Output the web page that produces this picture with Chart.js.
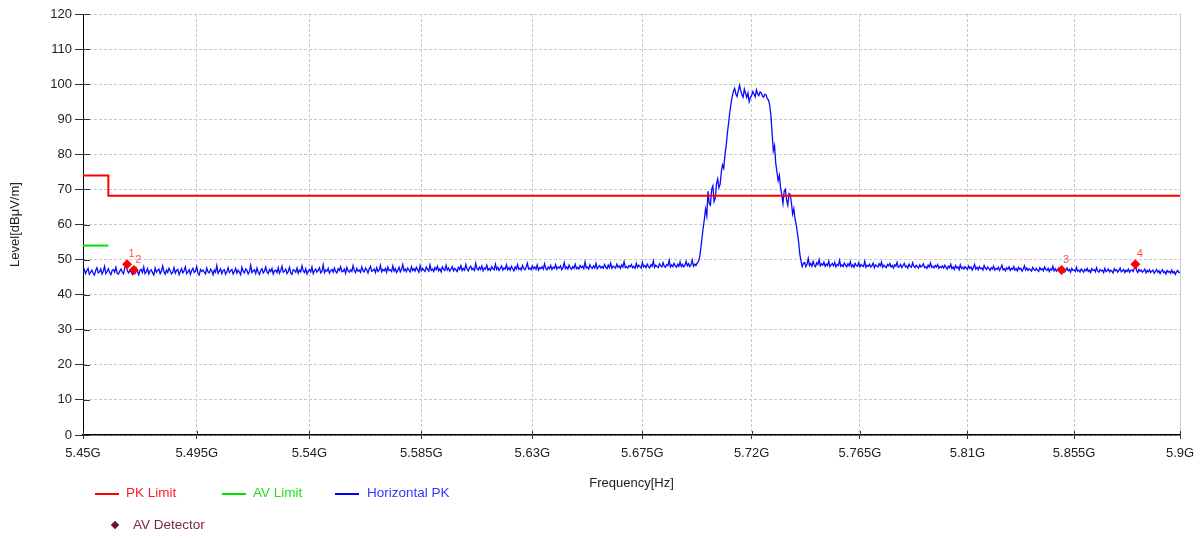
<!DOCTYPE html>
<html>
<head>
<meta charset="utf-8">
<script src="https://cdn.jsdelivr.net/npm/chart.js@4.4.0/dist/chart.umd.min.js"></script>
<style>
  html, body { margin: 0; padding: 0; background: #fff; }
  #wrap { position: relative; width: 1203px; height: 538px; font-family: Arial, "Liberation Sans", sans-serif; }
  #chart { position: absolute; left: 0; top: 0; }
  .lg { position: absolute; font-size: 13.5px; line-height: 16px; white-space: nowrap; }
  .ln { position: absolute; width: 24px; height: 2px; }
  .dia { position: absolute; width: 6px; height: 6px; background: #6b1636; transform: rotate(45deg); }
</style>
</head>
<body>
<div id="wrap">
  <canvas id="chart" width="1203" height="538"></canvas>
  <div class="ln" style="left:95px;top:493px;background:#ff0000"></div>
  <div class="lg" style="left:126px;top:485px;color:#ff2020">PK Limit</div>
  <div class="ln" style="left:222px;top:493px;background:#00e000"></div>
  <div class="lg" style="left:253px;top:485px;color:#22dd22">AV Limit</div>
  <div class="ln" style="left:335px;top:493px;background:#0000ff"></div>
  <div class="lg" style="left:367px;top:485px;color:#3535ff">Horizontal PK</div>
  <div class="dia" style="left:112px;top:522px"></div>
  <div class="lg" style="left:133px;top:517px;color:#7b2350">AV Detector</div>
</div>
<script>
// frequency axis (log scale, like the receiver software)
const X_MIN = 5.45e9;
const X_MAX = 5.9e9;
const xTickValues = [5.45e9, 5.495e9, 5.54e9, 5.585e9, 5.63e9, 5.675e9, 5.72e9, 5.765e9, 5.81e9, 5.855e9, 5.9e9];
const xTickLabels = ["5.45G", "5.495G", "5.54G", "5.585G", "5.63G", "5.675G", "5.72G", "5.765G", "5.81G", "5.855G", "5.9G"];

// limit lines
const pkLimitFreq = [5.45e9, 5.46e9, 5.9e9];
const pkLimitLevel = [74, 74, 68.2];
const avLimitFreq = [5.45e9, 5.46e9];
const avLimitLevel = [54, 54];

// sweep: 5.45G .. 5.9G, 0.5 MHz per point
const SWEEP_START = 5.45e9;
const SWEEP_STEP = 0.5e6;
const horizontalPK = [
  // 5.4500 - 5.5995
  46.3, 47.2, 46.0, 46.8, 47.5, 45.8, 46.4, 47.0, 46.1, 45.6, 46.9, 47.7, 46.2, 46.5, 47.3, 45.9, 46.7, 48.1, 46.0, 46.6,
  47.4, 46.3, 45.7, 46.9, 47.1, 46.4, 47.8, 46.1, 45.9, 46.7, 47.3, 46.5, 46.0, 47.6, 48.6, 46.8, 46.2, 47.0, 46.4, 45.8,
  47.0, 46.1, 47.5, 46.6, 45.7, 46.9, 47.2, 46.3, 47.9, 46.0, 46.5, 47.4, 45.9, 46.8, 47.1, 46.2, 45.6, 47.6, 46.4, 46.9,
  47.3, 46.0, 46.7, 48.2, 46.5, 45.8, 47.0, 46.3, 47.5, 46.8, 45.9, 46.4, 47.7, 46.1, 46.9, 47.2, 45.7, 46.6, 47.4, 46.2,
  46.8, 47.9, 46.0, 46.5, 47.1, 45.8, 46.9, 47.5, 46.3, 46.7, 48.0, 46.1, 45.6, 47.2, 46.6, 47.0, 46.4, 45.9, 47.6, 46.5,
  46.2, 47.3, 46.8, 45.7, 47.0, 46.4, 48.3, 46.1, 46.7, 47.4, 46.0, 46.9, 47.1, 45.8, 46.5, 47.7, 46.3, 46.8, 47.2, 45.9,
  46.6, 47.5, 46.1, 47.0, 46.4, 45.7, 47.8, 46.7, 46.2, 47.3, 46.9, 45.9, 46.5, 48.4, 46.3, 46.8, 47.1, 46.0, 47.6, 46.4,
  45.8, 46.9, 47.4, 46.2, 46.7, 47.9, 46.5, 46.0, 47.2, 46.6, 47.5, 45.9, 46.8, 47.0, 46.3, 47.7, 46.1, 46.9, 48.1, 46.4,
  46.7, 47.3, 46.0, 46.6, 47.8, 46.2, 45.8, 47.1, 46.9, 46.4, 47.6, 46.1, 47.0, 46.5, 48.2, 46.8, 46.3, 47.4, 45.9, 46.7,
  47.2, 46.5, 47.9, 46.0, 46.8, 47.3, 46.4, 46.9, 47.7, 46.2, 46.6, 48.5, 46.3, 47.0, 46.7, 47.5, 46.1, 46.8, 47.2, 46.4,
  47.6, 46.6, 46.2, 47.4, 46.9, 48.0, 46.5, 46.7, 47.3, 46.1, 47.8, 46.8, 46.4, 47.1, 46.6, 48.3, 46.9, 46.3, 47.5, 46.7,
  47.0, 46.4, 47.9, 46.8, 46.5, 47.6, 47.1, 46.2, 47.4, 48.1, 46.7, 46.9, 47.3, 46.3, 47.7, 46.6, 47.0, 48.4, 46.5, 47.2,
  46.8, 47.5, 46.4, 47.9, 46.9, 47.1, 46.6, 48.2, 46.7, 47.4, 46.3, 47.0, 47.8, 46.5, 47.2, 48.6, 46.8, 47.3, 46.6, 47.6,
  47.0, 46.5, 48.0, 46.9, 47.4, 46.7, 47.8, 47.1, 46.4, 48.3, 46.8, 47.5, 47.0, 46.6, 47.9, 47.2, 46.7, 48.5, 46.9, 47.3,
  46.6, 47.7, 47.1, 48.1, 46.8, 47.4, 46.5, 47.9, 47.2, 46.9, 48.4, 47.0, 47.6, 46.7, 47.3, 48.0, 46.8, 47.5, 47.1, 46.6,
  // 5.6000 - 5.6975
  47.8, 47.2, 48.3, 46.9, 47.5, 47.0, 48.6, 47.3, 46.8, 47.7, 48.1, 47.1, 47.5, 46.9, 48.9, 47.4, 47.0, 47.8, 47.2, 48.2,
  46.8, 47.6, 47.3, 48.4, 47.0, 47.5, 46.9, 48.0, 47.4, 47.1, 48.7, 47.2, 47.8, 46.9, 47.5, 48.2, 47.0, 47.6, 47.3, 48.5,
  47.1, 47.7, 47.0, 48.1, 47.4, 46.8, 47.9, 47.3, 48.6, 47.2, 47.6, 47.0, 48.3, 47.5, 47.1, 47.8, 49.0, 47.3, 47.6, 47.1,
  48.2, 47.4, 47.9, 47.2, 48.5, 47.0, 47.7, 47.4, 48.0, 47.3, 48.8, 47.5, 47.1, 47.9, 47.4, 48.3, 47.2, 47.8, 47.5, 48.6,
  47.3, 47.9, 47.6, 48.2, 47.1, 47.7, 49.1, 47.4, 47.9, 47.3, 48.4, 47.6, 47.2, 48.0, 47.5, 48.7, 47.4, 47.8, 47.3, 48.3,
  47.7, 48.1, 47.4, 49.3, 47.6, 47.9, 47.3, 48.5, 47.8, 47.5, 48.2, 47.6, 48.9, 47.4, 47.9, 48.3, 47.6, 48.0, 47.5, 48.6,
  47.8, 47.4, 48.4, 47.7, 49.0, 47.5, 48.1, 47.9, 47.6, 48.7, 47.8, 48.2, 47.5, 48.5, 47.9, 49.4, 47.7, 48.0, 47.6, 48.3,
  47.9, 48.6, 47.7, 48.1, 47.5, 48.9, 47.8, 48.4, 48.0, 47.6, 49.2, 47.9, 48.3, 47.7, 48.7, 48.0, 47.6, 48.5, 48.1, 49.6,
  47.8, 48.4, 48.0, 47.7, 48.8, 48.2, 47.9, 49.1, 48.1, 47.8, 48.6, 48.3, 49.8, 47.9, 48.5, 48.0, 48.9, 48.2, 47.8, 48.7,
  48.1, 49.3, 48.0, 48.6, 47.9, 48.4, 49.5, 48.2, 48.8, 48.0, 48.5, 49.9, 48.1, 48.7, 48.3, 49.0,
  // 5.6980 - 5.7415 : emission
  49.4, 50.5, 53.0, 56.0, 59.0, 61.5, 64.5, 62.5, 69.5, 66.0, 65.5, 70.0, 71.0, 66.5, 67.5, 71.5, 73.0, 70.5, 71.5, 75.0,
  77.0, 76.0, 80.0, 82.5, 86.0, 89.0, 92.0, 94.5, 96.5, 98.0, 98.8, 97.2, 96.5, 98.1, 99.7, 98.2, 97.0, 96.3, 98.6, 97.4,
  96.2, 97.5, 95.0, 96.1, 96.8, 97.9, 97.2, 96.4, 98.4, 97.3, 96.7, 97.8, 97.5, 96.6, 96.3, 97.1, 97.0, 95.8, 95.5, 94.0,
  91.0, 86.0, 81.0, 82.5, 77.5, 75.0, 72.5, 74.0, 70.5, 68.5, 66.0, 69.5, 70.0, 67.0, 65.5, 68.8, 68.5, 66.2, 63.0, 64.5,
  61.5, 60.0, 57.5, 55.0, 51.5, 49.5, 48.0, 49.0,
  // 5.7420 - 5.7995
  49.2, 48.0, 48.7, 50.3, 48.3, 48.9, 48.1, 49.5, 48.4, 48.0, 49.1, 48.6, 50.0, 48.2, 48.8, 48.4,
  49.3, 48.1, 48.7, 48.3, 49.6, 48.0, 48.5, 48.9, 48.2, 49.2, 47.9, 48.6, 48.3, 49.8, 48.1, 48.5, 48.0, 49.0, 48.4, 47.9,
  48.8, 48.2, 49.4, 48.0, 48.5, 47.8, 48.9, 48.3, 48.1, 49.1, 47.9, 48.6, 48.2, 48.0, 49.5, 47.8, 48.4, 48.1, 48.7, 47.9,
  48.3, 49.0, 47.7, 48.5, 48.1, 47.9, 48.8, 48.2, 49.3, 47.8, 48.4, 48.0, 47.7, 48.6, 48.2, 48.9, 47.9, 48.3, 47.6, 48.5,
  48.1, 49.2, 47.8, 48.0, 48.6, 47.7, 48.3, 48.9, 47.9, 48.2, 47.6, 48.7, 48.0, 47.8, 49.1, 48.1, 47.7, 48.4, 48.0, 47.6,
  48.5, 47.9, 48.2, 48.8, 47.7, 48.0, 47.5, 48.4, 47.9, 49.0, 47.8, 48.1, 47.6, 48.3, 47.9, 48.6, 47.5, 48.0, 47.7, 48.2,
  // 5.8000 - 5.9000
  47.6, 48.4, 47.8, 47.3, 48.1, 47.7, 48.7, 47.4, 47.9, 47.2, 48.3, 47.6, 47.9, 47.1, 48.5, 47.5, 47.8, 47.3, 48.0, 47.6,
  47.2, 48.2, 47.5, 47.9, 47.0, 47.7, 48.6, 47.3, 47.8, 47.1, 48.0, 47.4, 47.6, 47.0, 48.3, 47.5, 47.2, 47.9, 47.4, 46.9,
  47.7, 47.3, 48.1, 47.0, 47.5, 47.2, 47.8, 46.9, 47.6, 48.4, 47.1, 47.4, 46.8, 47.7, 47.3, 47.9, 46.9, 47.5, 47.2, 48.0,
  47.0, 47.4, 46.8, 47.8, 47.2, 47.5, 46.7, 47.3, 48.2, 47.0, 47.6, 46.9, 47.4, 47.1, 46.7, 47.8, 47.2, 46.9, 47.5, 47.0,
  46.6, 47.7, 47.1, 47.4, 46.8, 47.9, 47.2, 46.9, 47.5, 46.6, 47.3, 47.0, 48.1, 46.8, 47.4, 46.7, 47.2, 47.6, 46.9, 47.0,
  46.7, 47.3, 46.5, 47.0, 47.6, 46.8, 47.2, 46.4, 47.5, 46.9, 47.1, 46.6, 47.8, 46.7, 47.0, 46.5, 47.3, 46.9, 46.4, 47.2,
  46.8, 47.5, 46.6, 47.0, 46.3, 47.4, 46.9, 47.1, 46.5, 47.7, 46.7, 46.4, 47.2, 46.8, 47.0, 46.3, 47.5, 46.6, 46.9, 47.3,
  46.5, 47.0, 46.7, 46.2, 47.4, 46.8, 47.1, 46.4, 46.9, 47.6, 46.5, 46.8, 47.2, 46.3, 47.0, 46.6, 47.3, 46.4, 46.9, 47.1,
  46.6, 47.4, 48.6, 46.9, 46.3, 47.2, 46.7, 47.0, 46.4, 46.8, 47.3, 46.2, 46.9, 46.5, 47.1, 46.3, 46.7, 47.0, 46.1, 46.6,
  47.2, 46.4, 46.8, 46.0, 46.7, 47.1, 46.3, 46.6, 45.9, 46.9, 46.4, 46.7, 46.1, 47.0, 46.2, 46.6, 45.8, 46.5, 46.9, 46.3,
  46.4,
];

// AV detector final measurements
const avFreq = [5.4674e9, 5.4701e9, 5.8497e9, 5.8810e9];
const avLevel = [48.7, 47.0, 47.0, 48.7];
const avNames = ["1", "2", "3", "4"];

const GRID = "#c8c8c8";
const TXT = "#222";
const FONT = "Arial, 'Liberation Sans', sans-serif";

function pairs(xs, ys) {
  return xs.map((x, i) => ({ x: x, y: ys[i] }));
}

// little numbers beside the AV markers + the plot frame details
const decorPlugin = {
  id: "decor",
  afterDatasetsDraw(chart) {
    const ctx = chart.ctx;
    const area = chart.chartArea;
    ctx.save();
    ctx.strokeStyle = GRID;
    ctx.lineWidth = 1;
    ctx.beginPath();
    ctx.moveTo(Math.round(area.right) + 0.5, area.top);
    ctx.lineTo(Math.round(area.right) + 0.5, area.bottom);
    ctx.stroke();

    // inner tick marks
    ctx.strokeStyle = "#333";
    ctx.beginPath();
    chart.scales.y.ticks.forEach((t) => {
      const y = Math.round(chart.scales.y.getPixelForValue(t.value)) + 0.5;
      ctx.moveTo(area.left, y);
      ctx.lineTo(area.left + 7, y);
    });
    chart.scales.x.ticks.forEach((t) => {
      const x = Math.round(chart.scales.x.getPixelForValue(t.value)) + 0.5;
      ctx.moveTo(x, area.bottom);
      ctx.lineTo(x, area.bottom - 4);
    });
    ctx.stroke();

    const meta = chart.getDatasetMeta(0);
    ctx.fillStyle = "#ff5050";
    ctx.font = "11px " + FONT;
    ctx.textAlign = "center";
    ctx.textBaseline = "middle";
    meta.data.forEach((pt, i) => {
      ctx.fillText(avNames[i], pt.x + 4.5, pt.y - 10.5);
    });
    ctx.restore();
  },
};

new Chart(document.getElementById("chart"), {
  type: "line",
  data: {
    datasets: [
      {
        label: "AV Detector",
        data: pairs(avFreq, avLevel),
        showLine: false,
        pointStyle: "rectRot",
        pointRadius: 5,
        backgroundColor: "#ff0000",
        borderColor: "#ff0000",
        borderWidth: 0,
        order: 0,
      },
      {
        label: "PK Limit",
        data: pairs(pkLimitFreq, pkLimitLevel),
        stepped: "after",
        borderColor: "#ff0000",
        borderWidth: 2,
        pointRadius: 0,
        order: 1,
      },
      {
        label: "AV Limit",
        data: pairs(avLimitFreq, avLimitLevel),
        borderColor: "#00e000",
        borderWidth: 2,
        pointRadius: 0,
        order: 2,
      },
      {
        label: "Horizontal PK",
        data: horizontalPK.map((v, i) => ({ x: SWEEP_START + i * SWEEP_STEP, y: v })),
        borderColor: "#0a0aff",
        borderWidth: 1.3,
        pointRadius: 0,
        tension: 0,
        order: 3,
      },
    ],
  },
  options: {
    responsive: false,
    animation: false,
    events: [],
    layout: { padding: { top: 14, right: 23, left: 0, bottom: 0 } },
    plugins: { legend: { display: false }, tooltip: { enabled: false } },
    scales: {
      x: {
        type: "logarithmic",
        min: X_MIN,
        max: X_MAX,
        afterBuildTicks: (s) => { s.ticks = xTickValues.map((v) => ({ value: v })); },
        afterFit: (s) => { s.height = 103; },
        ticks: {
          autoSkip: false,
          maxRotation: 0,
          color: TXT,
          font: { size: 13, family: FONT },
          padding: 7,
          callback: (v, i) => xTickLabels[i],
        },
        grid: { color: GRID, tickColor: "#333", tickLength: 4 },
        border: { color: "#000", width: 1.5, dash: [3, 2] },
        title: {
          display: true,
          text: "Frequency[Hz]",
          color: TXT,
          font: { size: 13, family: FONT },
          padding: { top: 0, bottom: 47 },
        },
      },
      y: {
        min: 0,
        max: 120,
        afterFit: (s) => { s.width = 83; },
        ticks: {
          stepSize: 10,
          color: TXT,
          font: { size: 13, family: FONT },
          padding: 3,
        },
        grid: { color: GRID, tickColor: "#333", tickLength: 8 },
        border: { color: "#000", width: 1, dash: [3, 2] },
        title: {
          display: true,
          text: "Level[dBμV/m]",
          color: TXT,
          font: { size: 13, family: FONT },
          padding: { top: 8, bottom: 0 },
        },
      },
    },
  },
  plugins: [decorPlugin],
});
</script>
</body>
</html>
